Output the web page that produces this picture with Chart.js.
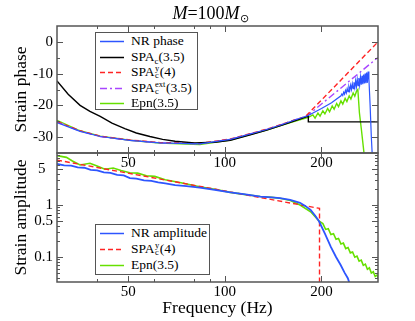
<!DOCTYPE html>
<html>
<head>
<meta charset="utf-8">
<script src="https://cdn.jsdelivr.net/npm/chart.js@4.4.1/dist/chart.umd.min.js"></script>
<style>
html,body{margin:0;padding:0;background:#fff;}
#wrap{position:relative;width:415px;height:321px;overflow:hidden;font-family:"Liberation Serif","Times New Roman",serif;color:#000;}
canvas{position:absolute;left:0;top:0;}
#title{position:absolute;left:0;top:4px;width:415px;text-align:center;font-size:18px;line-height:18px;padding-left:6px;box-sizing:border-box;}
#title sub{font-size:11px;vertical-align:-3px;line-height:0;}
.legend{position:absolute;background:#fff;border:1px solid #555;box-sizing:border-box;font-size:13.5px;}
.row{position:absolute;left:0;height:16px;line-height:16px;white-space:nowrap;}
.row svg{position:absolute;left:3px;top:0;}
.row span.t{position:absolute;left:35px;top:0;}
.ss{display:inline-block;vertical-align:-2px;font-size:8.5px;line-height:7px;margin:0 0.5px;}
.ss b{display:block;font-weight:normal;}
.sb{font-size:9px;vertical-align:-3px;line-height:0;}
</style>
</head>
<body>
<div id="wrap">
  <canvas id="top" width="415" height="321"></canvas>
  <canvas id="bot" width="415" height="321"></canvas>
  <div id="title"><i>M</i>=100<i>M</i><sub>⊙</sub></div>
  <div class="legend" id="legTop" style="left:95px;top:32px;width:103px;height:78px;"></div>
  <div class="legend" id="legBot" style="left:95px;top:224px;width:115px;height:51px;"></div>
</div>
<script>
// ---------------- data ----------------
// x axis (frequency, Hz)
const freqMin = 30, freqMax = 300;
const xTickValues = [40, 50, 60, 80, 90, 100, 200];
const xTickLabels = [50, 100, 200];

// top panel: strain phase
const phaseMin = -35, phaseMax = 5;
const phaseTickValues = [-30, -25, -20, -15, -10, -5, 0];
const phaseTickLabels = [-30, -20, -10, 0];

const phaseFreqNR = [30,35.4,40.9,50.6,62.6,83.5,104,135,150,165,182,200,215,230,231.5,233,234.5,236,237.5,239,240.5,242,243.5,245,246.5,248,249.5,251,252.5,254,255.5,257,258.5,260,261.5,263,264.5,266,267.5,269,270.5,272,273.5,275,276.5,278,279.5,281,283.5,286,288];
const phaseNR     = [-25.4,-28.2,-29.8,-31.0,-31.8,-32.1,-30.7,-27.6,-26.1,-24.6,-23.2,-21.0,-19.2,-17.0,-16.4,-16.9,-15.85,-16.45,-15.3,-16.1,-14.7,-15.7,-14.2,-15.3,-13.65,-15.0,-13.2,-14.7,-12.75,-14.4,-12.25,-14.1,-11.8,-13.8,-11.4,-13.6,-11.05,-13.45,-10.65,-13.3,-10.3,-13.1,-9.95,-13.0,-9.65,-12.9,-9.35,-11.5,-20,-30,-36];

const phaseFreqSPA = [30,32.5,35.4,38,40.9,44.5,48.8,53,58.4,64,70,80.4,93,104,120,135,150,165,182,182.01,300];
const phaseSPA     = [-12.3,-16.5,-20.0,-21.9,-23.5,-25.6,-27.3,-28.7,-29.8,-30.7,-31.3,-31.8,-31.6,-31.0,-29.3,-27.8,-26.3,-24.9,-23.4,-25.2,-25.2];

const phaseFreqY4 = [30,35.4,40.9,50.6,62.6,83.5,104,135,150,165,178,300];
const phaseY4     = [-25.1,-28.0,-29.7,-30.9,-31.7,-32.0,-30.6,-27.5,-26.0,-24.6,-23.6,0];

const phaseFreqExt = [30,35.4,40.9,50.6,62.6,83.5,104,135,150,165,180,300];
const phaseExt     = [-25.2,-28.1,-29.8,-31.0,-31.8,-32.1,-30.7,-27.6,-26.1,-24.6,-23.4,-4.9];

const phaseFreqEpn = [30,35.4,40.9,50.6,62.6,83.5,104,135,150,165,182,188,191,195,198,202,205,209,212,216,219,223,226,230,233,237,240,244,247,251,254,257,259.6,262.6,266.3,272];
const phaseEpn     = [-24.7,-28.0,-29.7,-31.0,-31.9,-32.3,-30.9,-27.8,-26.3,-25.0,-23.8,-23.0,-24.0,-22.4,-23.4,-21.7,-22.7,-21.0,-22.0,-20.2,-21.2,-19.4,-20.4,-18.6,-19.6,-17.8,-18.8,-17.0,-18.0,-16.1,-17.1,-15.6,-15.0,-22.4,-27.6,-36];

// bottom panel: strain amplitude
const ampMin = 0.033, ampMax = 10;
const ampTickValues = [0.04,0.05,0.06,0.07,0.08,0.09,0.1,0.2,0.3,0.4,0.5,0.6,0.7,0.8,0.9,1,2,3,4,5,6,7,8,9];
const ampTickLabels = [0.1, 0.5, 1, 5];

const ampFreqNR = [30,31.6,33.2,34.8,36.5,38.2,40,42,44,46.2,48.4,50.6,53,56,59,62,65.2,70,76,83.5,93,104,116,129,140,148.5,159.8,171.5,178,185,191,196.7,205,213.7,222,229.5,236,241.6,246];
const ampNR     = [6.15,5.8,5.7,5.3,5.2,4.75,4.62,4.25,4.15,3.8,3.7,3.3,3.2,2.98,2.9,2.72,2.6,2.42,2.3,2.15,1.95,1.75,1.6,1.45,1.4,1.35,1.25,1.1,0.96,0.8,0.63,0.48,0.28,0.158,0.1,0.07,0.05,0.039,0.028];

const ampFreqY4 = [30, 197.2, 197.2];
const ampY4     = [7.3, 0.86, 0.001];

const ampFreqEpn = [30,32.1,33.5,35.4,38,40,42.3,44.9,47.5,50.6,53.5,57,60.5,65.2,73,83.5,93,104,116,129,140,148.5,160,171.5,185,196.7,202,206,210,214,218,222,226,230,234,238,242,246,250,254,258,262,266,270,274,278,282,286,290,294,298,302];
const ampEpn     = [8.9,8.25,7.0,5.89,6.33,5.6,4.86,5.14,4.6,4.17,4.1,3.65,3.55,3.07,2.68,2.25,2.0,1.75,1.58,1.46,1.40,1.35,1.22,1.0,0.74,0.49,0.438,0.339,0.349,0.271,0.280,0.219,0.227,0.178,0.185,0.145,0.152,0.120,0.125,0.099,0.104,0.083,0.087,0.069,0.073,0.058,0.062,0.049,0.052,0.042,0.045,0.036];

// ---------------- helpers ----------------
const FONT = "'Liberation Serif','Times New Roman',serif";
const pts = (xs, ys) => xs.map((x, i) => ({x: x, y: ys[i]}));
const C_BLUE = '#2d55ff', C_RED = '#ff2424', C_PURPLE = '#a845ff', C_GREEN = '#66e000', C_BLACK = '#000000';

const frameTicks = {
  id: 'frameTicks',
  afterDatasetsDraw(chart) {
    const {ctx, chartArea: a} = chart;
    const xs = chart.scales.x, ys = chart.scales.y;
    ctx.save();
    ctx.strokeStyle = '#555';
    ctx.lineWidth = 1;
    ctx.beginPath();
    for (const t of xs.ticks) {
      const p = Math.round(xs.getPixelForValue(t.value)) + 0.5;
      if (p <= a.left + 1 || p >= a.right - 1) continue;
      const L = t.label ? 6 : 3;
      ctx.moveTo(p, a.bottom); ctx.lineTo(p, a.bottom - L);
      ctx.moveTo(p, a.top); ctx.lineTo(p, a.top + L);
    }
    for (const t of ys.ticks) {
      const p = Math.round(ys.getPixelForValue(t.value)) + 0.5;
      if (p <= a.top + 1 || p >= a.bottom - 1) continue;
      const L = t.label ? 6 : 3;
      ctx.moveTo(a.left, p); ctx.lineTo(a.left + L, p);
      ctx.moveTo(a.right, p); ctx.lineTo(a.right - L, p);
    }
    ctx.stroke();
    ctx.lineWidth = 1.5;
    ctx.strokeRect(a.left, a.top, a.right - a.left, a.bottom - a.top);
    ctx.restore();
  }
};

function xAxis(height, withTitle) {
  return {
    type: 'logarithmic', min: freqMin, max: freqMax,
    afterBuildTicks: s => { s.ticks = xTickValues.map(v => ({value: v})); },
    afterFit: s => { s.height = height; },
    grid: {display: false, drawTicks: false}, border: {display: false},
    ticks: {autoSkip: false, maxRotation: 0, minRotation: 0, padding: 1, color: '#000',
      font: {family: FONT, size: 15},
      callback: v => xTickLabels.includes(v) ? String(v) : ''},
    title: {display: withTitle, text: 'Frequency (Hz)', color: '#000',
      font: {family: FONT, size: 17.5}, padding: {top: 0, bottom: 2.5}}
  };
}
function yAxis(type, min, max, tv, tl, title, labelFmt) {
  return {
    type: type, min: min, max: max,
    afterBuildTicks: s => { s.ticks = tv.map(v => ({value: v})); },
    afterFit: s => { s.width = 57; },
    grid: {display: false, drawTicks: false}, border: {display: false},
    ticks: {autoSkip: false, padding: 4, color: '#000', font: {family: FONT, size: 15},
      callback: v => tl.includes(v) ? (labelFmt ? labelFmt(v) : String(v)) : ''},
    title: {display: true, text: title, color: '#000', font: {family: FONT, size: 17.5},
      padding: {top: 11, bottom: 0}}
  };
}
function line(label, data, color, dash, width) {
  return {label: label, data: data, borderColor: color, backgroundColor: color,
    borderWidth: width || 1.4, borderDash: dash || [], pointRadius: 0, fill: false, tension: 0};
}
const common = {
  responsive: false, animation: false, devicePixelRatio: 1, events: [],
  plugins: {legend: {display: false}, tooltip: {enabled: false}, title: {display: false}}
};

// ---------------- top chart ----------------
const topChart = new Chart(document.getElementById('top'), {
  type: 'line',
  data: {datasets: [
    line('NR phase', pts(phaseFreqNR, phaseNR), C_BLUE, null, 1.2),
    line('SPAc(3.5)', pts(phaseFreqSPA, phaseSPA), C_BLACK),
    line('SPAyc(4)', pts(phaseFreqY4, phaseY4), C_RED, [5, 3]),
    line('SPAextc(3.5)', pts(phaseFreqExt, phaseExt), C_PURPLE, [7, 3, 2, 3]),
    line('Epn(3.5)', pts(phaseFreqEpn, phaseEpn), C_GREEN)
  ]},
  options: Object.assign({}, common, {
    layout: {padding: {top: 26, right: 37, bottom: 0, left: 0}},
    scales: {
      x: xAxis(168, false),
      y: yAxis('linear', phaseMin, phaseMax, phaseTickValues, phaseTickLabels, 'Strain phase')
    }
  }),
  plugins: [frameTicks]
});

// ---------------- bottom chart ----------------
const botChart = new Chart(document.getElementById('bot'), {
  type: 'line',
  data: {datasets: [
    line('NR amplitude', pts(ampFreqNR, ampNR), C_BLUE, null, 1.8),
    line('SPAyc(4)', pts(ampFreqY4, ampY4), C_RED, [5, 3]),
    line('Epn(3.5)', pts(ampFreqEpn, ampEpn), C_GREEN, null, 1.6)
  ]},
  options: Object.assign({}, common, {
    layout: {padding: {top: 153, right: 37, bottom: 0, left: 0}},
    scales: {
      x: xAxis(39, true),
      y: yAxis('logarithmic', ampMin, ampMax, ampTickValues, ampTickLabels, 'Strain amplitude',
        v => v === 5 ? '5  ' : String(v))
    }
  }),
  plugins: [frameTicks]
});

// ---------------- HTML legends (rich text labels) ----------------
const richLabels = {
  'NR phase': 'NR phase',
  'NR amplitude': 'NR amplitude',
  'SPAc(3.5)': 'SPA<span class="sb">c</span>(3.5)',
  'SPAyc(4)': 'SPA<span class="ss"><b>y</b><b>c</b></span>(4)',
  'SPAextc(3.5)': 'SPA<span class="ss"><b>ext</b><b>c</b></span>(3.5)',
  'Epn(3.5)': 'Epn(3.5)'
};
function buildLegend(chart, el, firstCenter, step) {
  chart.data.datasets.forEach((ds, i) => {
    const row = document.createElement('div');
    row.className = 'row';
    row.style.top = (firstCenter + i * step - 8) + 'px';
    row.style.width = '100%';
    const dash = (ds.borderDash || []).join(' ');
    row.innerHTML = '<svg width="26" height="16"><line x1="1" y1="8.5" x2="25" y2="8.5" stroke="' + ds.borderColor +
      '" stroke-width="1.5"' + (dash ? ' stroke-dasharray="' + dash + '"' : '') + '/></svg>' +
      '<span class="t">' + richLabels[ds.label] + '</span>';
    el.appendChild(row);
  });
}
buildLegend(topChart, document.getElementById('legTop'), 8, 15.6);
buildLegend(botChart, document.getElementById('legBot'), 7.5, 16.3);
</script>
</body>
</html>
